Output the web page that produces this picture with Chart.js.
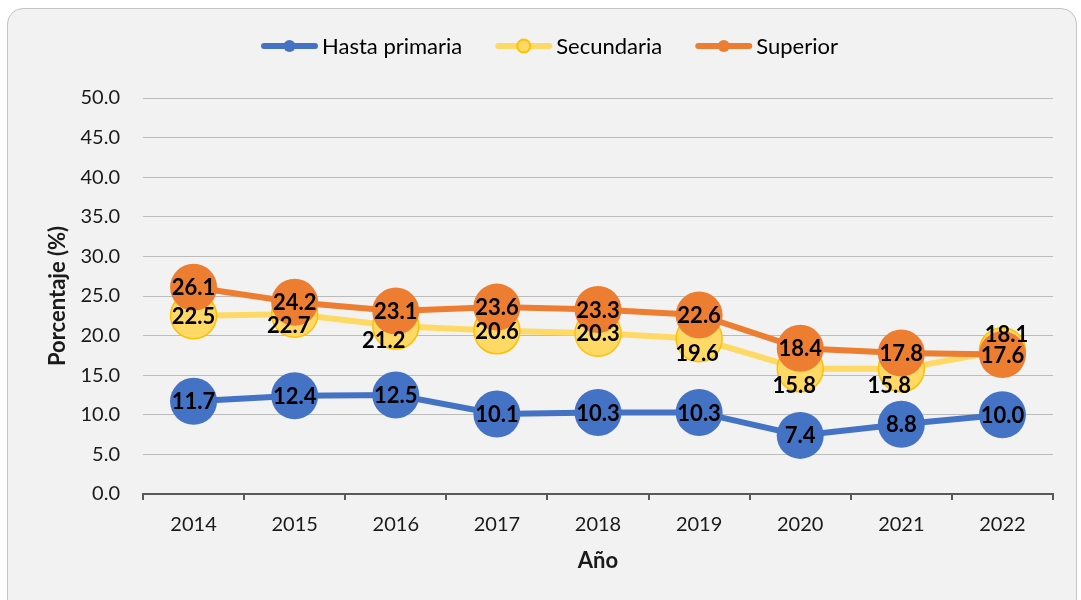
<!DOCTYPE html>
<html>
<head>
<meta charset="utf-8">
<script src="https://cdn.jsdelivr.net/npm/chart.js"></script>
<style>
  html, body { margin:0; padding:0; background:#ffffff; width:1081px; height:600px; overflow:hidden; }
  #frame { position:absolute; left:7px; top:8px; width:1070px; height:630px; background:#f2f2f2; border:1px solid #c4c4c4; border-radius:16px; box-sizing:border-box; }
  #wrap { position:absolute; left:0; top:0; width:1081px; height:600px; }
</style>
</head>
<body>
<div id="frame"></div>
<div id="wrap"><canvas id="c" width="1081" height="600"></canvas></div>
<script>
// ---- data ----
const years = ['2014','2015','2016','2017','2018','2019','2020','2021','2022'];
const hastaPrimaria = [11.7, 12.4, 12.5, 10.1, 10.3, 10.3, 7.4, 8.8, 10.0];
const secundaria    = [22.5, 22.7, 21.2, 20.6, 20.3, 19.6, 15.8, 15.8, 18.1];
const superior      = [26.1, 24.2, 23.1, 23.6, 23.3, 22.6, 18.4, 17.8, 17.6];
const seriesNames = ['Hasta primaria', 'Secundaria', 'Superior'];
const yMin = 0, yMax = 50, yStep = 5;
const yTitle = 'Porcentaje (%)';
const xTitle = 'Año';

// ---- style ----
const FONT = 'Lato, "Liberation Sans", sans-serif';
const tickSize = 20, titleSize = 22, labelSize = 22, legendSize = 22;
// label nudges (px) per dataset index, per point
const labelNudge = {
  1: [[0,0],[-6,11],[-12,14],[0,0],[0,0],[-2,14],[-6,16],[-12,16],[4,-17]]
};

const legendPlugin = {
  id: 'customLegend',
  afterDraw(chart) {
    const ctx = chart.ctx;
    ctx.save();
    ctx.font = legendSize + 'px ' + FONT;
    ctx.textBaseline = 'middle';
    ctx.textAlign = 'left';
    let x = 261;
    const y = 46;
    chart.data.datasets.forEach(ds => {
      ctx.strokeStyle = ds.borderColor;
      ctx.lineWidth = 6;
      ctx.lineCap = 'round';
      ctx.beginPath(); ctx.moveTo(x + 3, y); ctx.lineTo(x + 54, y); ctx.stroke();
      ctx.beginPath();
      ctx.arc(x + 28.5, y, ds.legendR, 0, Math.PI * 2);
      ctx.fillStyle = ds.pointBackgroundColor; ctx.fill();
      if (ds.pointBorderWidth) { ctx.lineWidth = 2; ctx.strokeStyle = ds.pointBorderColor; ctx.stroke(); }
      ctx.fillStyle = '#000000';
      ctx.fillText(ds.label, x + 61, y + 1);
      x += 61 + ctx.measureText(ds.label).width + 33;
    });
    ctx.restore();
  }
};

const labelPlugin = {
  id: 'valueLabels',
  afterDatasetsDraw(chart) {
    const ctx = chart.ctx;
    ctx.save();
    ctx.font = 'bold ' + labelSize + 'px ' + FONT;
    ctx.fillStyle = '#000000';
    ctx.textAlign = 'center';
    ctx.textBaseline = 'middle';
    chart.data.datasets.forEach((ds, di) => {
      const meta = chart.getDatasetMeta(di);
      const n = labelNudge[di];
      meta.data.forEach((pt, i) => {
        const d = n ? n[i] : [0, 0];
        ctx.fillText(ds.data[i].toFixed(1), pt.x + d[0], pt.y + d[1] + 1);
      });
    });
    ctx.restore();
  }
};

new Chart(document.getElementById('c'), {
  type: 'line',
  data: {
    labels: years,
    datasets: [
      { label: seriesNames[0], data: hastaPrimaria, borderColor: '#4472c4', backgroundColor: '#4472c4',
        pointBackgroundColor: '#4472c4', pointBorderColor: '#4472c4', pointBorderWidth: 0,
        borderWidth: 6, pointRadius: 23.5, pointHoverRadius: 23.5, order: 3, legendR: 6 },
      { label: seriesNames[1], data: secundaria, borderColor: '#ffd966', backgroundColor: '#ffd966',
        pointBackgroundColor: '#ffd966', pointBorderColor: '#ffc000', pointBorderWidth: 1.5,
        borderWidth: 6, pointRadius: 23, pointHoverRadius: 23, order: 2, legendR: 6.5 },
      { label: seriesNames[2], data: superior, borderColor: '#ed7d31', backgroundColor: '#ed7d31',
        pointBackgroundColor: '#ed7d31', pointBorderColor: '#ed7d31', pointBorderWidth: 0,
        borderWidth: 6, pointRadius: 23.5, pointHoverRadius: 23.5, order: 1, legendR: 6 }
    ]
  },
  options: {
    responsive: false,
    animation: false,
    devicePixelRatio: 1,
    layout: { padding: { left: 42, right: 28, top: 98, bottom: 23 } },
    plugins: { legend: { display: false }, tooltip: { enabled: false } },
    scales: {
      x: {
        offset: true,
        grid: { offset: true, drawOnChartArea: false, drawTicks: true, tickLength: 6, color: '#595959', lineWidth: 2 },
        border: { display: true, color: '#595959', width: 2 },
        ticks: { color: '#1a1a1a', font: { family: FONT, size: tickSize }, padding: 13, maxRotation: 0 },
        title: { display: true, text: xTitle, color: '#1a1a1a', font: { family: FONT, size: titleSize, weight: 'bold' }, padding: 3 },
        afterFit(s) { s.height = 577 - 494; }
      },
      y: {
        min: yMin, max: yMax,
        grid: { color: '#bcbcbc', lineWidth: 1, drawTicks: false },
        border: { display: false },
        ticks: { stepSize: yStep, color: '#1a1a1a', font: { family: FONT, size: tickSize }, padding: 23,
                 callback: v => Number(v).toFixed(1) },
        title: { display: true, text: yTitle, color: '#1a1a1a', font: { family: FONT, size: titleSize, weight: 'bold' }, padding: 3 },
        afterFit(s) { s.width = 101; }
      }
    }
  },
  plugins: [labelPlugin, legendPlugin]
});
</script>
</body>
</html>
